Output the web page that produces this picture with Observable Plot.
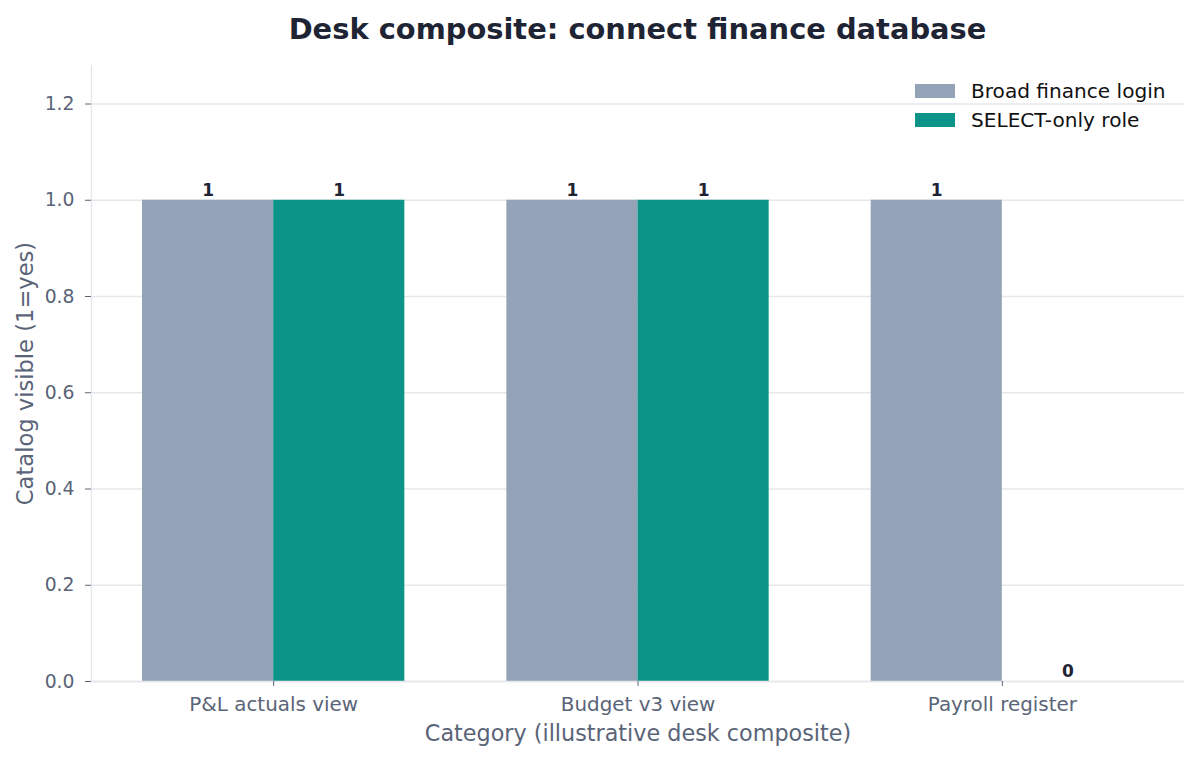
<!DOCTYPE html>
<html>
<head>
<meta charset="utf-8">
<script src="https://cdn.jsdelivr.net/npm/d3@7"></script>
<script src="https://cdn.jsdelivr.net/npm/@observablehq/plot@0.6"></script>
<style>
  html, body { margin: 0; padding: 0; background: #fff; }
  body { width: 1199px; height: 760px; overflow: hidden; font-family: "DejaVu Sans", sans-serif; }
  #wrap { position: relative; width: 1199px; height: 760px; }
  #title { height: 50px; line-height: 58px; text-align: center; padding-left: 76px; font-weight: bold; font-size: 28.9px; color: #1e2433; }
  #legend { position: absolute; left: 915px; top: 76px; font-size: 20.1px; color: #111; }
  .li { display: flex; align-items: center; height: 29px; }
  .sw { width: 40px; height: 14px; margin-right: 16px; }
</style>
</head>
<body>
<div id="wrap">
  <div id="title">Desk composite: connect finance database</div>
  <div id="chart"></div>
  <div id="legend"></div>
</div>
<script>
const categories = ["P&L actuals view", "Budget v3 view", "Payroll register"];
const seriesNames = ["Broad finance login", "SELECT-only role"];
const broadValues = [1, 1, 1];
const selectValues = [1, 1, 0];
const seriesColors = ["#94a3b8", "#0d9488"];
const yTicks = [0, 0.2, 0.4, 0.6, 0.8, 1.0, 1.2];

const barWidth = 0.36;
const rows = [];
categories.forEach((c, i) => {
  rows.push({cat: c, i, series: seriesNames[0], value: broadValues[i], x1: i - barWidth, x2: i});
  rows.push({cat: c, i, series: seriesNames[1], value: selectValues[i], x1: i, x2: i + barWidth});
});

const axisGray = "#5a6478";
const gridGray = "#e5e7eb";

const plot = Plot.plot({
  width: 1199,
  height: 710,
  marginTop: 15,
  marginBottom: 79,
  marginLeft: 91,
  marginRight: 15,
  style: {fontFamily: "'DejaVu Sans', sans-serif", fontSize: "18.8px", color: axisGray, background: "#fff"},
  x: {domain: [-0.5, 2.5], axis: null},
  y: {domain: [0, 1.28], axis: null},
  color: {domain: seriesNames, range: seriesColors},
  marks: [
    Plot.gridY(yTicks, {stroke: gridGray, strokeOpacity: 1, strokeWidth: 1.3}),
    Plot.rectY(rows, {x1: "x1", x2: "x2", y1: 0, y2: "value", fill: "series"}),
    Plot.ruleY([0], {stroke: gridGray, strokeWidth: 1.3}),
    Plot.ruleX([-0.5], {stroke: gridGray, strokeWidth: 1.3}),
    Plot.axisY(yTicks, {tickFormat: d3.format(".1f"), tickSize: 6, tickPadding: 11, stroke: axisGray, fill: axisGray, fontSize: 18.8, label: null}),
    Plot.axisX(categories.map((c, i) => i), {tickFormat: i => categories[i], tickSize: 5, tickPadding: 10, stroke: axisGray, fill: axisGray, fontSize: 19.9, label: null}),
    Plot.text(rows, {x: d => (d.x1 + d.x2) / 2, y: "value", text: d => String(d.value), dy: -10, fontWeight: "bold", fontSize: 17, fill: "#1e2433"}),
    Plot.text(["Category (illustrative desk composite)"], {frameAnchor: "bottom", lineAnchor: "middle", dy: 52, fontSize: 22.3, fill: axisGray}),
    Plot.text(["Catalog visible (1=yes)"], {frameAnchor: "left", textAnchor: "middle", lineAnchor: "middle", dx: -66, rotate: -90, fontSize: 22.6, fill: axisGray})
  ]
});
document.getElementById("chart").appendChild(plot);

const legend = document.getElementById("legend");
seriesNames.forEach((s, k) => {
  const row = document.createElement("div");
  row.className = "li";
  row.innerHTML = `<div class="sw" style="background:${seriesColors[k]}"></div><span>${s}</span>`;
  legend.appendChild(row);
});
</script>
</body>
</html>
